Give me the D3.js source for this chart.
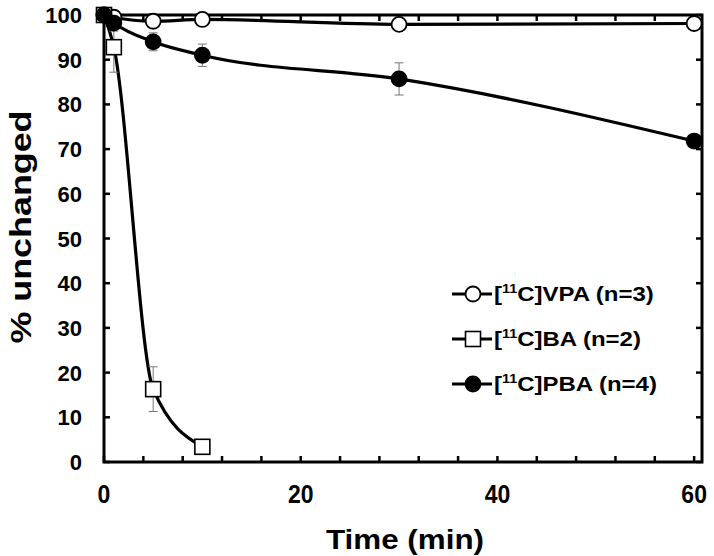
<!DOCTYPE html>
<html>
<head>
<meta charset="utf-8">
<script src="https://cdn.jsdelivr.net/npm/d3@7"></script>
<style>
  body { margin: 0; background: #fff; }
  svg text { font-family: "Liberation Sans", Arial, sans-serif; font-weight: bold; fill: #000; }
</style>
</head>
<body>
<script>
// time points (min)
var tVPA = [0, 1, 5, 10, 30, 60],
    tBA  = [0, 1, 5, 10],
    tPBA = [0, 1, 5, 10, 30, 60];

// % unchanged
var vVPA = [100, 99.5, 98.6, 99, 97.9, 98.1],
    vBA  = [100, 92.8, 16.3, 3.4],
    vPBA = [100, 98.2, 94, 91, 85.7, 71.8];

// error (sd)
var eVPA = [0, 0.5, 1, 0.6, 0.5, 0.4],
    eBA  = [0, 5.6, 5, 0.3],
    ePBA = [0, 1.8, 2, 2.5, 3.6, 1.2];

var legendLabels = ['VPA (n=3)', 'BA (n=2)', 'PBA (n=4)'];
var yTicks = d3.range(0, 101, 10);
var xTickLabels = [0, 20, 40, 60];
var xMinor = d3.range(0, 61, 4);

var width = 714, height = 556;
var margin = {top: 15, left: 104, right: 12, bottom: 94};

var svg = d3.select('body').append('svg')
  .attr('width', width)
  .attr('height', height)

var x = d3.scaleLinear()
  .domain([0, 60.8])
  .range([margin.left, width - margin.right])

var y = d3.scaleLinear()
  .domain([0, 100])
  .range([height - margin.bottom, margin.top])

var x0 = x.range()[0], x1 = x.range()[1], y0 = y.range()[0], y1 = y.range()[1];

// ticks (inside, on all four sides)
var tk = 6;
var ticks = svg.append('g').attr('stroke', '#000').attr('stroke-width', 2.5)
yTicks.forEach(function (v) {
  ticks.append('line').attr('x1', x0).attr('x2', x0 + tk).attr('y1', y(v)).attr('y2', y(v))
  ticks.append('line').attr('x1', x1).attr('x2', x1 - tk).attr('y1', y(v)).attr('y2', y(v))
})
xMinor.forEach(function (v) {
  ticks.append('line').attr('x1', x(v)).attr('x2', x(v)).attr('y1', y0).attr('y2', y0 - tk)
  ticks.append('line').attr('x1', x(v)).attr('x2', x(v)).attr('y1', y1).attr('y2', y1 + tk)
})

// frame
svg.append('rect')
  .attr('x', x0).attr('y', y1)
  .attr('width', x1 - x0).attr('height', y0 - y1)
  .attr('fill', 'none').attr('stroke', '#000').attr('stroke-width', 3)

// tick labels
svg.append('g').selectAll('text')
  .data(yTicks).enter()
  .append('text')
  .attr('x', 82)
  .attr('y', d => y(d) + 8)
  .attr('text-anchor', 'end')
  .attr('font-size', 22)
  .text(d => d)

svg.append('g').selectAll('text')
  .data(xTickLabels).enter()
  .append('text')
  .attr('transform', d => 'translate(' + x(d) + ',503) scale(0.92,1)')
  .attr('text-anchor', 'middle')
  .attr('font-size', 25)
  .text(d => d)

// axis titles
svg.append('text')
  .attr('x', 405).attr('y', 549)
  .attr('text-anchor', 'middle')
  .attr('font-size', 27)
  .attr('textLength', 158)
  .attr('lengthAdjust', 'spacingAndGlyphs')
  .text('Time (min)')

svg.append('text')
  .attr('transform', 'translate(31,227) rotate(-90)')
  .attr('text-anchor', 'middle')
  .attr('font-size', 30)
  .attr('textLength', 233)
  .attr('lengthAdjust', 'spacingAndGlyphs')
  .text('% unchanged')

var series = [
  {t: tVPA, v: vVPA, e: eVPA, shape: 'circle', fill: '#fff'},
  {t: tBA,  v: vBA,  e: eBA,  shape: 'square', fill: '#fff'},
  {t: tPBA, v: vPBA, e: ePBA, shape: 'circle', fill: '#000'}
];

var line = d3.line()
  .x(d => x(d[0]))
  .y(d => y(d[1]))
  .curve(d3.curveMonotoneX)

function marker(g, shape, fill, cx, cy) {
  if (shape == 'circle') {
    g.append('circle').attr('cx', cx).attr('cy', cy).attr('r', 7.5)
      .attr('fill', fill).attr('stroke', '#000').attr('stroke-width', 1.8)
  } else {
    g.append('rect').attr('x', cx - 7.5).attr('y', cy - 7.5).attr('width', 15).attr('height', 15)
      .attr('fill', fill).attr('stroke', '#000').attr('stroke-width', 1.6)
  }
}

series.forEach(function (s) {
  var pts = s.t.map((t, i) => [t, s.v[i]]);
  svg.append('path')
    .attr('d', line(pts))
    .attr('fill', 'none').attr('stroke', '#000').attr('stroke-width', 3.2)
})

series.forEach(function (s) {
  var g = svg.append('g').attr('stroke', '#777').attr('stroke-width', 1)
  s.t.forEach(function (t, i) {
    if (!s.e[i]) return;
    var cx = x(t), a = y(s.v[i] + s.e[i]), b = y(s.v[i] - s.e[i]);
    g.append('line').attr('x1', cx).attr('x2', cx).attr('y1', a).attr('y2', b)
    g.append('line').attr('x1', cx - 4.5).attr('x2', cx + 4.5).attr('y1', a).attr('y2', a)
    g.append('line').attr('x1', cx - 4.5).attr('x2', cx + 4.5).attr('y1', b).attr('y2', b)
  })
})

series.forEach(function (s) {
  var g = svg.append('g')
  s.t.forEach(function (t, i) { marker(g, s.shape, s.fill, x(t), y(s.v[i])) })
})

// legend
var legY = [294, 339, 384];
series.forEach(function (s, i) {
  var g = svg.append('g')
  g.append('line').attr('x1', 452).attr('x2', 492).attr('y1', legY[i]).attr('y2', legY[i])
    .attr('stroke', '#000').attr('stroke-width', 3)
  marker(g, s.shape, s.fill, 473, legY[i])
  var tx = g.append('text')
    .attr('transform', 'translate(494,' + (legY[i] + 7) + ') scale(1.2,1)')
    .attr('font-size', 20)
  tx.append('tspan').text('[')
  tx.append('tspan').attr('font-size', 12).attr('dy', -8).text('11')
  tx.append('tspan').attr('dy', 8).text('C]' + legendLabels[i])
})
</script>
</body>
</html>
